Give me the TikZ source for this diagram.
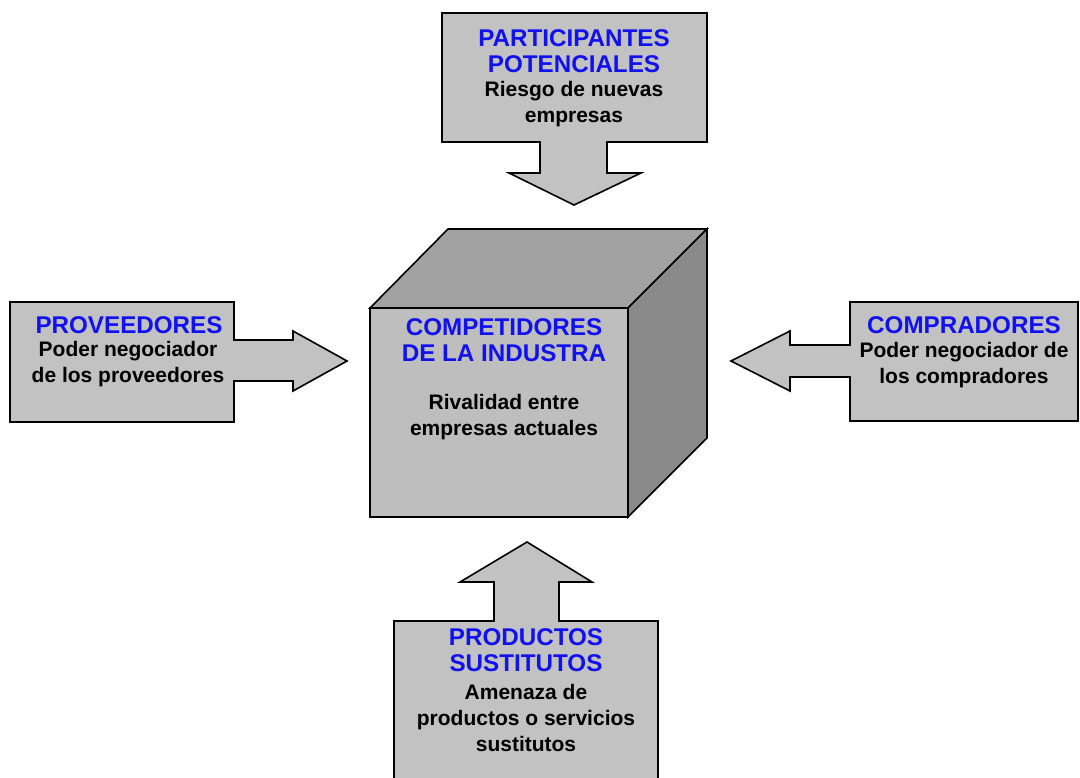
\documentclass[tikz,border=0pt]{standalone}
\usepackage{fontspec}
\setmainfont{Liberation Sans}
\begin{document}
\begin{tikzpicture}[x=1pt,y=-1pt,
  shapebox/.style={draw=black,line width=1.6pt,line join=miter,fill=boxgray},
  ttl/.style={text=titleblue,font=\bfseries\fontsize{24.2}{26.5}\selectfont},
  bodytext/.style={text=black,font=\bfseries\fontsize{21}{26}\selectfont},
  lbl/.style={align=center,inner sep=0pt}]
\definecolor{boxgray}{HTML}{C2C2C2}
\definecolor{frontgray}{HTML}{BEBEBE}
\definecolor{topgray}{HTML}{A2A2A2}
\definecolor{sidegray}{HTML}{8A8A8A}
\definecolor{titleblue}{HTML}{1010F0}
\useasboundingbox (0,0) rectangle (1080,778);
% cube
\draw[shapebox,fill=topgray] (370,308) -- (448,229) -- (707,229) -- (628,308) -- cycle;
\draw[shapebox,fill=sidegray] (628,308) -- (707,229) -- (707,438) -- (628,517) -- cycle;
\draw[shapebox,fill=frontgray] (370,308) rectangle (628,517);
% top callout
\draw[shapebox] (442,13) -- (707,13) -- (707,142) -- (607,142) -- (607,173) -- (641,173)
  -- (574,205) -- (509,173) -- (540,173) -- (540,142) -- (442,142) -- cycle;
% left callout
\draw[shapebox] (10,302) -- (234,302) -- (234,340) -- (293,340) -- (293,331) -- (347,361)
  -- (293,391) -- (293,381) -- (234,381) -- (234,422) -- (10,422) -- cycle;
% right callout
\draw[shapebox] (1078,302) -- (850,302) -- (850,345) -- (790,345) -- (790,331) -- (731,361)
  -- (790,391) -- (790,377) -- (850,377) -- (850,421) -- (1078,421) -- cycle;
% bottom callout
\draw[shapebox] (394,790) -- (394,621) -- (494,621) -- (494,582) -- (460,582) -- (527,542)
  -- (592,582) -- (559,582) -- (559,621) -- (658,621) -- (658,790) -- cycle;
% texts
\node[lbl,ttl] (ttop) at (574,51) {PARTICIPANTES\\POTENCIALES};
\node[lbl,bodytext] (btop) at (574,104) {Riesgo de nuevas\\empresas};
\node[lbl,ttl] (tleft) at (129,325) {PROVEEDORES};
\node[lbl,bodytext] (bleft) at (128,364) {Poder negociador\\de los proveedores};
\node[lbl,ttl] (tright) at (964,325) {COMPRADORES};
\node[lbl,bodytext] (bright) at (964,365) {Poder negociador de\\los compradores};
\node[lbl,ttl] (tcube) at (504,340) {COMPETIDORES\\DE LA INDUSTRA};
\node[lbl,bodytext] (bcube) at (504,417) {Rivalidad entre\\empresas actuales};
\node[lbl,ttl] (tbot) at (526,650) {PRODUCTOS\\SUSTITUTOS};
\node[lbl,bodytext] (bbot) at (526,718) {Amenaza de\\productos o servicios\\sustitutos};
\end{tikzpicture}
\end{document}
